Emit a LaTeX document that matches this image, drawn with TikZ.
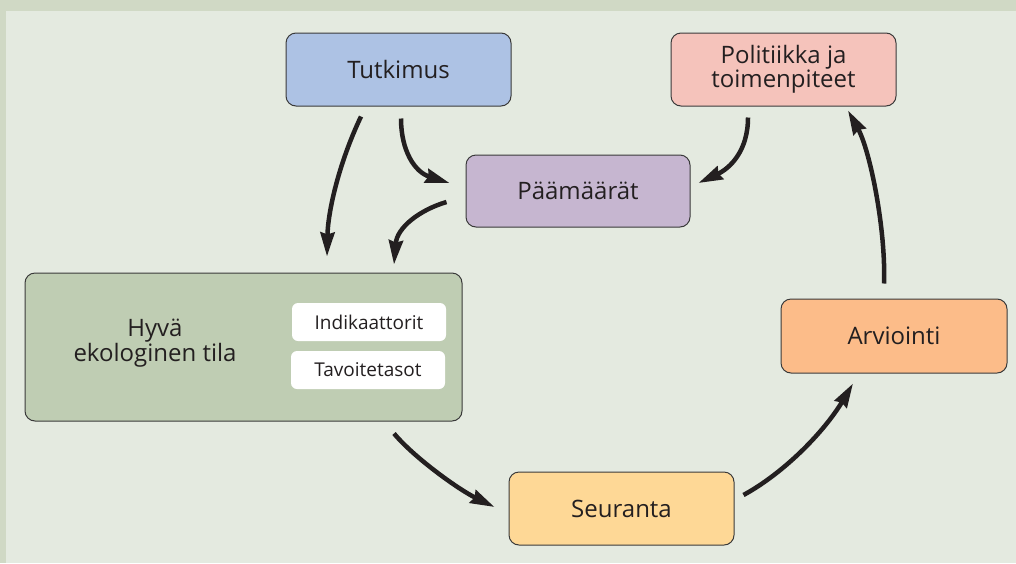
\documentclass[tikz,border=0pt]{standalone}
\usepackage{fontspec}
\setmainfont{Open Sans}
\usetikzlibrary{arrows.meta,calc}
\definecolor{outerbg}{HTML}{D0D9C5}
\definecolor{innerbg}{HTML}{E4EAE0}
\definecolor{ctut}{HTML}{ADC2E4}
\definecolor{cpol}{HTML}{F5C3BB}
\definecolor{cpaa}{HTML}{C6B6D0}
\definecolor{chyv}{HTML}{BFCDB3}
\definecolor{carv}{HTML}{FCBC89}
\definecolor{cseu}{HTML}{FED896}
\definecolor{ink}{HTML}{231F20}
\definecolor{edge}{HTML}{3A3A3A}
\begin{document}
\begin{tikzpicture}[x=1pt,y=-1pt,
  box/.style={draw=edge, line width=1pt, rounded corners=10pt, inner sep=0pt,
    align=center, text=ink, font=\fontsize{24}{23}\selectfont},
  whitebox/.style={fill=white, rounded corners=6pt, inner sep=0pt,
    minimum width=154pt, minimum height=38pt, text=ink, font=\fontsize{19}{21}\selectfont},
  flow/.style={draw=ink, line width=4.5pt, -{Stealth[length=24pt,width=14pt,inset=2pt]}}]
\fill[outerbg] (0,0) rectangle (1016,563);
\fill[innerbg] (6,11) rectangle (1016,563);
\useasboundingbox (0,0) rectangle (1016,563);

\node[box, fill=ctut, minimum width=225pt, minimum height=73pt] (tut) at (398.5,69.5) {Tutkimus};
\node[box, fill=cpol, minimum width=225pt, minimum height=73pt] (pol) at (783.5,69.5) {Politiikka ja\\toimenpiteet};
\node[box, fill=cpaa, minimum width=224pt, minimum height=72pt] (paa) at (578,191) {Päämäärät};
\node[box, fill=chyv, minimum width=437pt, minimum height=148pt] (hyva) at (243.5,347) {};
\node[align=center, text=ink, font=\fontsize{24}{23}\selectfont, inner sep=0pt] (hyvat) at (155,343) {Hyvä\\ekologinen tila};
\node[whitebox] (ind) at (369,322) {Indikaattorit};
\node[whitebox] (tav) at (368,370) {Tavoitetasot};
\node[box, fill=carv, minimum width=226pt, minimum height=74pt] (arv) at (894,336) {Arviointi};
\node[box, fill=cseu, minimum width=225pt, minimum height=73pt] (seu) at (621.5,508.5) {Seuranta};

\draw[flow] ($(tut.south)+(-37.5,10)$) .. controls +(-21,44) and +(1,-47) .. ($(hyva.north)+(83.5,-16)$);
\draw[flow] ($(tut.south)+(2.5,12)$) .. controls +(0,32) and +(-35,-11) .. ($(paa.west)+(-16,-8)$);
\draw[flow] ($(paa.west)+(-19,11)$) .. controls +(-27,8) and +(3,-37) .. ($(hyva.north)+(150.5,-8)$);
\draw[flow] ($(pol.south)+(-35.5,11)$) .. controls +(0,33) and +(32,-15) .. ($(paa.east)+(8,-8)$);
\draw[flow] ($(arv.north)+(-10,-15)$) .. controls +(2,-54) and +(22,40) .. ($(pol.south)+(64.5,4)$);
\draw[flow] ($(hyva.south)+(150.5,12)$) .. controls +(21,25) and +(-35,-17) .. ($(seu.west)+(-14,-1.5)$);
\draw[flow] ($(seu.east)+(9,-13.5)$) .. controls +(42,-23) and +(-28,47) .. ($(arv.south)+(-41,10)$);
\end{tikzpicture}
\end{document}
